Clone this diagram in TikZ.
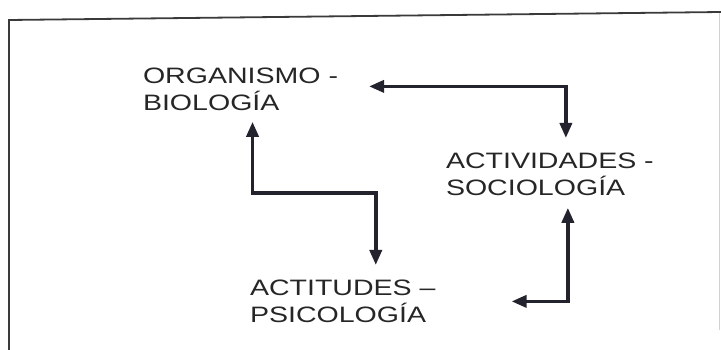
\documentclass[tikz,border=0pt]{standalone}
\usepackage{fontspec}
\setmainfont{Liberation Sans}[FakeStretch=1.28]
\usepackage{xcolor}
\definecolor{cInk}{HTML}{23232E}
\definecolor{cText}{HTML}{262626}
\definecolor{cFrame}{HTML}{3A3A3A}
\usepackage{tikz}
\usetikzlibrary{positioning,arrows.meta}
\tikzset{
  node-label/.style={inner sep=0pt,outer sep=0pt,anchor=north west,align=left,
    text=cText,font=\fontsize{22.3pt}{27pt}\selectfont},
  arrow-both/.style={{Triangle[length=15pt,width=12pt]}-{Triangle[length=15pt,width=12pt]},
    line width=3.5pt,draw=cInk},
  frame-line/.style={line width=1.8pt,draw=cFrame},
}

\begin{document}
\begin{tikzpicture}[x=1pt,y=-1pt]
  \useasboundingbox (0,0) rectangle (721,350);
  % marco
  \draw[frame-line] (9,350) -- (9,20) -- (721,12);
  \draw[line width=1pt,draw=gray!35] (719,13) -- (719,330);
  % conceptos
  \node[node-label] (org) at (143,68) {ORGANISMO -\\BIOLOGÍA};
  \node[node-label] (act) at (446,153) {ACTIVIDADES -\\SOCIOLOGÍA};
  \node[node-label] (att) at (250,280) {ACTITUDES –\\PSICOLOGÍA};
  % relaciones
  \draw[arrow-both] ([xshift=31pt,yshift=3pt]org.east) -| ([xshift=16pt,yshift=15pt]act.north);
  \draw[arrow-both] ([xshift=12pt,yshift=-11pt]org.south) -- ++(0,71) -| ([xshift=33pt,yshift=15pt]att.north);
  \draw[arrow-both] ([xshift=18pt,yshift=-12pt]act.south) |- ([xshift=76pt]att.east);
\end{tikzpicture}
\end{document}
